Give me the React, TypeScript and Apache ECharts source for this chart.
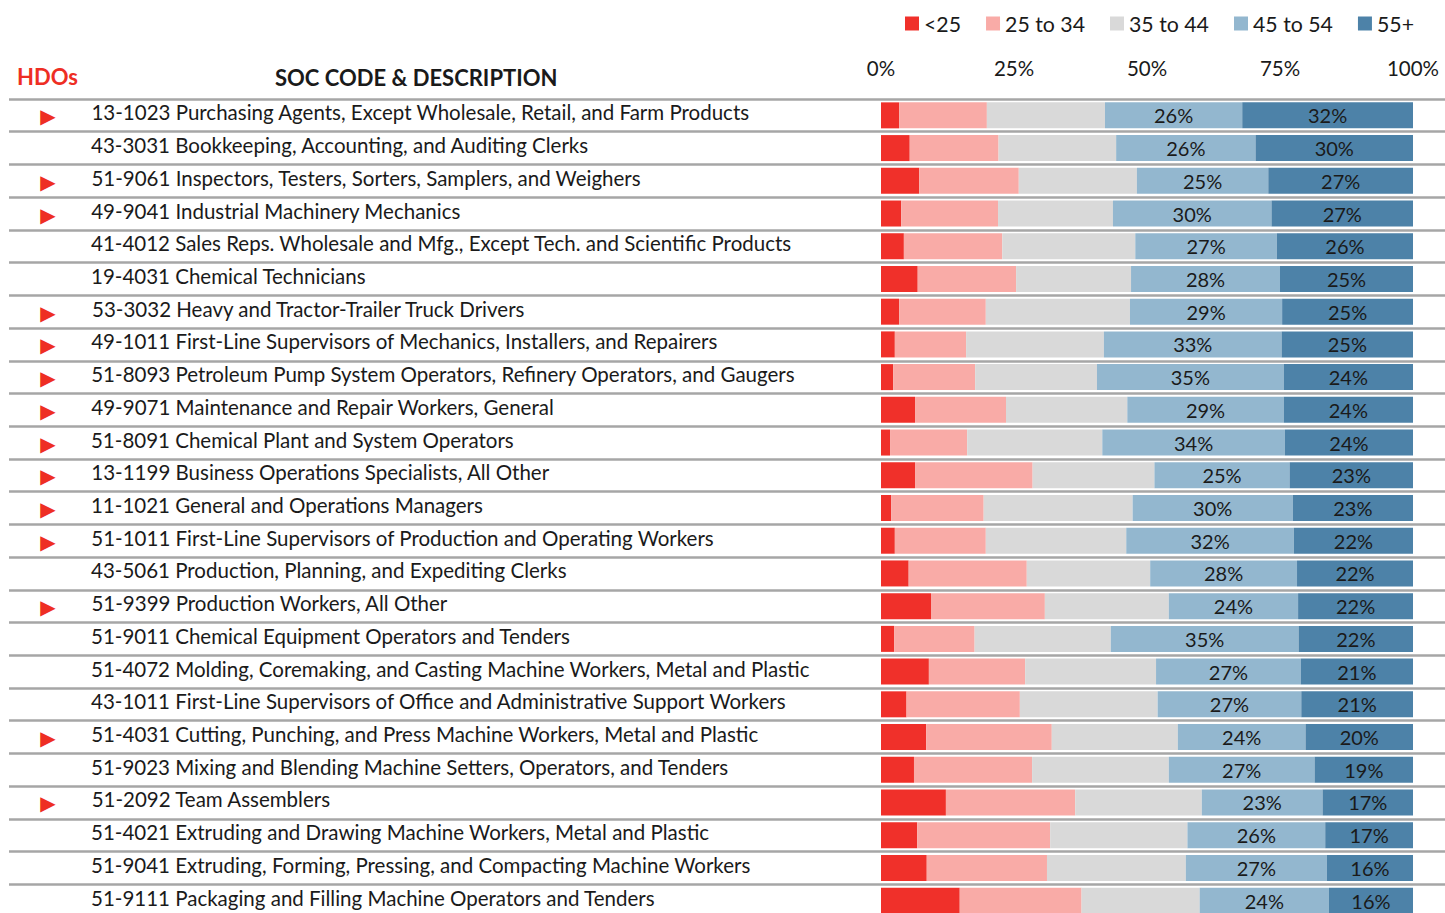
import React, { useEffect, useRef } from 'react';
import * as echarts from 'echarts';

const codes = [
  '13-1023', '43-3031', '51-9061', '49-9041', '41-4012', '19-4031', '53-3032', '49-1011',
  '51-8093', '49-9071', '51-8091', '13-1199', '11-1021', '51-1011', '43-5061', '51-9399',
  '51-9011', '51-4072', '43-1011', '51-4031', '51-9023', '51-2092', '51-4021', '51-9041', '51-9111',
];

const descriptions = [
  'Purchasing Agents, Except Wholesale, Retail, and Farm Products',
  'Bookkeeping, Accounting, and Auditing Clerks',
  'Inspectors, Testers, Sorters, Samplers, and Weighers',
  'Industrial Machinery Mechanics',
  'Sales Reps. Wholesale and Mfg., Except Tech. and Scientific Products',
  'Chemical Technicians',
  'Heavy and Tractor-Trailer Truck Drivers',
  'First-Line Supervisors of Mechanics, Installers, and Repairers',
  'Petroleum Pump System Operators, Refinery Operators, and Gaugers',
  'Maintenance and Repair Workers, General',
  'Chemical Plant and System Operators',
  'Business Operations Specialists, All Other',
  'General and Operations Managers',
  'First-Line Supervisors of Production and Operating Workers',
  'Production, Planning, and Expediting Clerks',
  'Production Workers, All Other',
  'Chemical Equipment Operators and Tenders',
  'Molding, Coremaking, and Casting Machine Workers, Metal and Plastic',
  'First-Line Supervisors of Office and Administrative Support Workers',
  'Cutting, Punching, and Press Machine Workers, Metal and Plastic',
  'Mixing and Blending Machine Setters, Operators, and Tenders',
  'Team Assemblers',
  'Extruding and Drawing Machine Workers, Metal and Plastic',
  'Extruding, Forming, Pressing, and Compacting Machine Workers',
  'Packaging and Filling Machine Operators and Tenders',
];

const hdoFlags = [1, 0, 1, 1, 0, 0, 1, 1, 1, 1, 1, 1, 1, 1, 0, 1, 0, 0, 0, 1, 0, 1, 0, 0, 0];

const under25 = [3.4, 5.4, 7.2, 3.8, 4.3, 6.9, 3.4, 2.6, 2.3, 6.4, 1.7, 6.4, 1.9, 2.6, 5.2, 9.4, 2.5, 9.0, 4.8, 8.5, 6.2, 12.2, 6.8, 8.6, 14.8];
const age25to34 = [16.5, 16.7, 18.7, 18.2, 18.5, 18.5, 16.3, 13.4, 15.4, 17.1, 14.5, 22.1, 17.4, 17.1, 22.2, 21.4, 15.1, 18.1, 21.3, 23.6, 22.2, 24.3, 25.0, 22.6, 22.9];
const age35to44 = [22.2, 22.1, 22.2, 21.6, 25.0, 21.6, 27.1, 25.9, 22.9, 22.8, 25.4, 22.9, 28.0, 26.4, 23.2, 23.3, 25.6, 24.6, 25.9, 23.7, 25.7, 23.8, 25.8, 26.1, 22.2];
const age45to54 = [25.8, 26.2, 24.7, 29.8, 26.6, 28.0, 28.6, 33.4, 35.1, 29.4, 34.3, 25.4, 30.1, 31.5, 27.6, 24.3, 35.3, 27.2, 27.0, 24.0, 27.4, 22.7, 25.9, 26.5, 24.3];
const age55plus = [32.1, 29.6, 27.2, 26.6, 25.6, 25.0, 24.6, 24.7, 24.3, 24.3, 24.1, 23.2, 22.6, 22.4, 21.8, 21.6, 21.5, 21.1, 21.0, 20.2, 18.5, 17.0, 16.5, 16.2, 15.8];

const seriesNames = ['<25', '25 to 34', '35 to 44', '45 to 54', '55+'];
const seriesColors = ['#f0302a', '#f9aba7', '#d9d9d9', '#93b7cf', '#4d82a8'];
const labelledSeries = [false, false, false, true, true];

const FONT = 'Lato';

export default function App() {
  const ref = useRef<HTMLDivElement>(null);

  useEffect(() => {
    const chart = echarts.init(ref.current!, null, { renderer: 'svg' });
    const rowLabels = codes.map((c, i) => `${c} ${descriptions[i]}`);
    const allData = [under25, age25to34, age35to44, age45to54, age55plus];

    chart.setOption({
      animation: false,
      textStyle: { fontFamily: FONT },
      title: [
        {
          text: 'HDOs',
          left: 12,
          top: 60,
          textStyle: { color: '#ee2e24', fontSize: 22, fontWeight: 'bold', fontFamily: FONT },
        },
        {
          text: 'SOC CODE & DESCRIPTION',
          left: 270,
          top: 61,
          textStyle: { color: '#1a1a1a', fontSize: 22, fontWeight: 'bold', fontFamily: FONT },
        },
      ],
      legend: {
        data: seriesNames,
        right: 26,
        top: 8,
        icon: 'rect',
        itemWidth: 14,
        itemHeight: 14,
        itemGap: 25,
        selectedMode: false,
        textStyle: { fontSize: 21.3, color: '#1a1a1a', fontFamily: FONT },
      },
      grid: [
        { left: 881, right: 32, top: 99, height: 818, containLabel: false },
        { left: 9, right: 0, top: 99, height: 818, containLabel: false },
      ],
      xAxis: [
        {
          gridIndex: 0,
          type: 'value',
          position: 'top',
          min: 0,
          max: 100,
          interval: 25,
          axisLine: { show: false },
          axisTick: { show: false },
          splitLine: { show: false },
          axisLabel: {
            formatter: '{value}%',
            fontSize: 20.5,
            color: '#1a1a1a',
            margin: 21,
            fontFamily: FONT,
          },
        },
        {
          gridIndex: 1,
          type: 'value',
          show: false,
          min: 0,
          max: 100,
        },
      ],
      yAxis: [
        {
          gridIndex: 0,
          type: 'category',
          inverse: true,
          data: rowLabels,
          axisLine: { show: false },
          axisTick: { show: false },
          axisLabel: { show: false },
          splitLine: { show: false },
        },
        {
          gridIndex: 1,
          type: 'category',
          inverse: true,
          data: rowLabels,
          axisLine: { show: false },
          axisTick: { show: false },
          splitLine: { show: true, lineStyle: { color: '#a6a6a6', width: 2.5 } },
          axisLabel: {
            inside: true,
            margin: 0,
            interval: 0,
            formatter: (value: string, idx: number) =>
              hdoFlags[idx] ? `{a|▶}{t|${value}}` : `{b|}{t|${value}}`,
            rich: {
              a: { width: 78, align: 'center', color: '#ee2e24', fontSize: 20, fontFamily: 'DejaVu Sans', padding: [2, 0, 0, 0] },
              b: { width: 78 },
              t: { fontSize: 20.5, color: '#1a1a1a', fontFamily: FONT, padding: [0, 0, 6, 4] },
            },
          },
        },
      ],
      series: seriesNames.map((name, si) => ({
        name,
        type: 'bar',
        stack: 'total',
        xAxisIndex: 0,
        yAxisIndex: 0,
        barWidth: 26,
        itemStyle: { color: seriesColors[si] },
        label: labelledSeries[si]
          ? {
              show: true,
              position: 'inside',
              color: '#1a1a1a',
              fontSize: 20,
              fontFamily: FONT,
              formatter: (p: any) => `${Math.round(p.value)}%`,
            }
          : { show: false },
        data: allData[si],
      })),
    });

    return () => chart.dispose();
  }, []);

  return (
    <div
      style={{ position: 'absolute', left: 0, top: 0, width: 1445, height: 913, overflow: 'hidden', background: '#fff' }}
    >
      <div ref={ref} style={{ width: 1445, height: 940 }} />
    </div>
  );
}
